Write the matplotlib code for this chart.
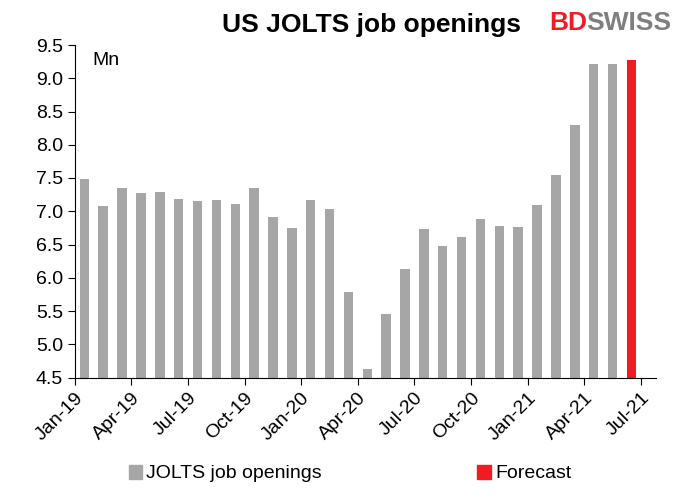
import matplotlib
matplotlib.use("Agg")
import matplotlib.pyplot as plt
from matplotlib.patches import Patch
plt.rcParams["font.family"] = "Liberation Sans"

actual = [7.48, 7.08, 7.35, 7.28, 7.29, 7.18, 7.15, 7.17, 7.11, 7.35, 6.92, 6.75,
          7.17, 7.03, 5.79, 4.63, 5.46, 6.13, 6.73, 6.48, 6.62, 6.88, 6.78, 6.76,
          7.10, 7.54, 8.30, 9.21, 9.22]
forecast = [9.28]
tick_labels = ["Jan-19", "Apr-19", "Jul-19", "Oct-19", "Jan-20", "Apr-20",
               "Jul-20", "Oct-20", "Jan-21", "Apr-21", "Jul-21"]

fig = plt.figure(figsize=(7, 5), dpi=100)
ax = fig.add_axes([0.107, 0.245, 0.83, 0.665])
gray = "#a6a6a6"; red = "#ee1c25"
ax.bar([i + 0.5 for i in range(len(actual))], actual, width=0.5, color=gray)
ax.bar([len(actual) + 0.5], forecast, width=0.5, color=red)
ax.set_ylim(4.5, 9.5)
ax.set_yticks([4.5 + 0.5 * k for k in range(11)])
ax.set_yticklabels([f"{4.5 + 0.5 * k:.1f}" for k in range(11)], fontsize=14)
ax.set_xlim(0, 30.8)
ax.set_xticks(range(0, 31, 3))
ax.set_xticklabels(tick_labels, rotation=45, ha="right", rotation_mode="anchor", fontsize=14)
for s in ["top", "right"]:
    ax.spines[s].set_visible(False)
ax.tick_params(direction="out", length=5)
ax.text(0.03, 0.98, "Mn", transform=ax.transAxes, fontsize=14, va="top")
fig.text(0.53, 0.95, "US JOLTS job openings", ha="center", va="center", fontsize=19, fontweight="bold")
fig.text(0.785, 0.955, "BD", color=red, fontsize=19, fontweight="bold", va="center")
fig.text(0.838, 0.955, "SWISS", color="#7f7f7f", fontsize=19, fontweight="bold", va="center")
fig.legend(handles=[Patch(color=gray, label="JOLTS job openings"), Patch(color=red, label="Forecast")],
           loc="lower center", bbox_to_anchor=(0.5, 0.0), ncol=2, frameon=False, fontsize=14,
           columnspacing=8, handlelength=0.7, handletextpad=0.2)
fig.savefig("out.png")
